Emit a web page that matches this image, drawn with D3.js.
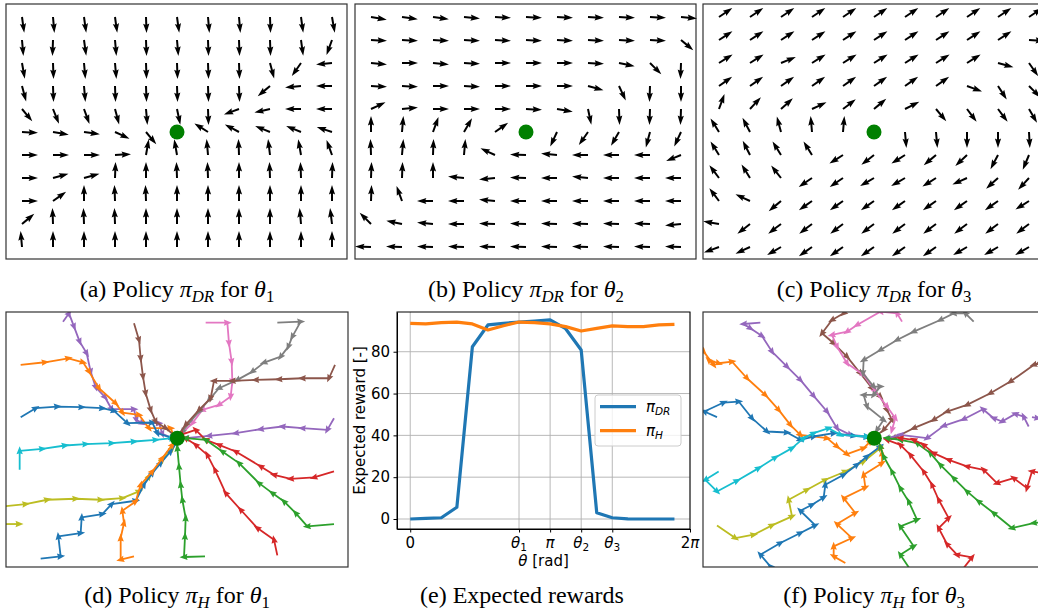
<!DOCTYPE html>
<html>
<head>
<meta charset="utf-8">
<script src="https://cdn.jsdelivr.net/npm/d3@7"></script>
<style>
  body { margin: 0; background: #fff; }
  svg { display: block; }
  .cap { font-family: "Liberation Serif", "Times New Roman", serif; font-size: 24px; fill: #000; }
  .ax text { font-family: "DejaVu Sans", sans-serif; font-size: 15px; fill: #000; }
</style>
</head>
<body>
<svg id="fig" width="1038" height="613"></svg>
<script>
// Quiver fields: action angle in degrees (counter-clockwise from +x), rows top->bottom, 11x11 grid
const quiverA = [
  [-82,-85,-82,-82,-88,-82,-85,-85,-88,-82,-80],
  [-85,-92,-82,-85,-88,-85,-88,-88,-88,-82,-110],
  [-80,-88,-85,-85,-88,-88,-88,-88,-75,-125,-175],
  [-75,-88,-85,-88,-88,-88,-88,-88,-140,-175,180],
  [-50,-68,-70,-75,-85,-78,-88,-160,-167,180,180],
  [-3,-10,-8,-25,-50,null,148,152,158,158,162],
  [0,0,0,3,80,100,95,92,97,100,110],
  [0,15,15,88,90,92,92,90,92,92,88],
  [0,35,90,92,92,90,90,90,90,90,90],
  [40,92,92,92,90,90,90,90,90,95,97],
  [95,90,90,90,90,90,90,90,90,90,90]
]
const quiverB = [
  [-10,-8,-8,-5,-3,-3,-3,-3,-3,-3,-5],
  [-3,-3,-3,-3,-3,-3,-3,-3,-3,-3,-40],
  [-5,0,-5,-3,0,0,0,-3,-12,-45,-92],
  [-3,-3,0,-3,0,0,0,-15,-65,-92,-90],
  [25,5,0,0,0,-3,-10,-78,-88,-92,-92],
  [90,85,70,60,35,null,-115,-125,-120,-105,-115],
  [92,85,88,85,155,178,175,180,180,180,202],
  [88,88,90,175,185,178,180,175,180,180,180],
  [88,110,180,180,175,180,180,180,180,180,180],
  [135,168,175,180,178,178,178,178,178,178,185],
  [178,178,178,178,178,178,178,178,178,178,178]
]
const quiverC = [
  [34,34,34,34,34,34,34,34,34,34,34],
  [33,33,33,33,33,33,33,33,33,33,-3],
  [32,32,22,32,32,32,32,32,32,-15,-55],
  [35,35,35,35,35,35,35,35,-20,-57,-45],
  [70,47,42,25,37,40,27,-50,-53,-53,-60],
  [122,118,105,95,85,null,-85,-85,-90,-90,-87],
  [122,117,122,122,-148,-142,-148,-140,-137,-118,-113],
  [127,122,128,-146,-146,-150,-150,-148,-156,-138,-133],
  [127,155,-140,-145,-145,-145,-145,-145,-145,-145,-148],
  [170,-142,-143,-143,-143,-143,-143,-143,-143,-143,-143],
  [-160,-155,-150,-145,-145,-145,-145,-145,-150,-150,-150]
]

// Trajectories: [tab10 colour index, states (x, y)]
const trajD = [
  [4, [[-3.43,3.50],[-3.25,3.75],[-3.10,3.35],[-2.93,2.90],[-2.72,2.55],[-2.60,2.00],[-2.45,1.53],[-2.17,1.23],[-1.97,0.87],[-1.30,0.87],[-1.23,0.55],[-1.05,0.45],[-0.55,0.45],[-0.45,0.13],[-0.15,0]]],
  [1, [[-4.70,2.20],[-3.97,2.28],[-3.27,2.40],[-2.83,2.28],[-2.65,2.00],[-2.35,1.50],[-1.85,1.05],[-1.65,0.77],[-1.15,0.70],[-0.85,0.30],[-0.20,0.30],[-0.10,0.05]]],
  [0, [[-4.70,0.63],[-4.25,0.90],[-3.60,0.95],[-2.87,0.93],[-2.25,0.90],[-1.90,0.82],[-1.50,0.45],[-0.75,0.47],[-0.60,0.15],[-0.15,0]]],
  [5, [[-1.30,3.45],[-1.15,2.95],[-1.10,2.40],[-1.03,1.85],[-0.95,1.35],[-0.80,0.85],[-0.65,0.50],[-0.35,0.30],[-0.05,0.05]]],
  [6, [[0.85,3.47],[1.50,3.47],[1.55,2.85],[1.63,2.30],[1.65,1.70],[1.60,1.25],[1.25,1.00],[0.75,0.85],[0.45,0.45],[0.15,0.15],[0,0]]],
  [7, [[3.00,3.47],[3.70,3.50],[3.45,3.05],[3.33,2.75],[3.10,2.45],[2.60,2.27],[2.25,2.00],[1.80,1.75],[1.25,1.50],[0.95,1.15],[0.65,0.80],[0.15,0.20]]],
  [5, [[4.73,2.20],[4.55,1.80],[3.75,1.80],[3.05,1.77],[2.35,1.75],[1.65,1.72],[1.10,1.72],[1.00,1.20],[0.65,0.85],[0.25,0.40],[0,0.05]]],
  [4, [[4.70,0.60],[4.50,0.25],[3.75,0.30],[3.15,0.35],[2.50,0.27],[1.75,0.15],[0.95,0.07],[0.25,0]]],
  [3, [[4.70,-1.00],[4.10,-1.18],[3.40,-1.22],[2.90,-1.10],[2.50,-0.85],[1.75,-0.40],[1.25,-0.20],[0.85,-0.05],[0.55,0.25],[0.10,0.10]]],
  [9, [[-4.73,-0.95],[-4.73,-0.38],[-4.05,-0.32],[-3.37,-0.22],[-2.75,-0.18],[-1.97,-0.15],[-1.30,-0.10],[-0.65,-0.05],[-0.15,0]]],
  [8, [[-5.30,-2.06],[-4.55,-1.98],[-3.90,-1.85],[-3.05,-1.82],[-2.30,-1.85],[-1.65,-1.80],[-1.15,-1.60],[-0.85,-1.15],[-0.45,-0.65],[-0.15,-0.30],[-0.05,-0.05]]],
  [8, [[-5.30,-2.58],[-4.75,-2.58]]],
  [0, [[-4.10,-3.62],[-3.50,-3.55],[-3.57,-2.95],[-2.90,-2.85],[-2.87,-2.38],[-2.25,-2.28],[-1.97,-1.98],[-1.25,-1.88],[-1.00,-1.40],[-0.75,-1.05],[-0.50,-0.75],[-0.20,-0.40],[0,-0.10]]],
  [1, [[-1.30,-3.55],[-1.70,-3.65],[-1.70,-3.00],[-1.60,-2.55],[-1.65,-2.18],[-1.25,-1.90],[-1.10,-1.40],[-0.75,-1.00],[-0.45,-0.60],[-0.15,-0.20]]],
  [2, [[0.83,-3.55],[0.20,-3.57],[0.23,-2.95],[0.25,-2.40],[0.15,-1.85],[0.10,-1.40],[0.05,-0.85],[0,-0.30],[0,0]]],
  [3, [[3.00,-3.52],[2.90,-3.05],[2.40,-2.70],[1.90,-2.15],[1.45,-1.65],[1.13,-0.95],[0.90,-0.50],[0.55,-0.20],[0.25,0]]],
  [2, [[4.70,-2.58],[3.90,-2.65],[3.55,-2.25],[3.20,-1.90],[2.85,-1.65],[2.45,-1.35],[1.85,-0.75],[1.35,-0.40],[0.85,-0.05],[0.25,0]]]
]
const trajF = [
  [4, [[-3.42,3.47],[-3.92,3.43],[-3.72,3.30],[-3.37,3.07],[-3.07,2.60],[-2.62,2.15],[-2.22,1.75],[-1.82,1.27],[-1.42,0.80],[-1.12,0.30],[-0.72,0.10],[-0.22,0.05]]],
  [1, [[-5.30,2.80],[-5.12,2.60],[-4.82,2.20],[-4.97,2.35],[-4.67,2.25],[-4.27,2.30],[-3.82,1.80],[-3.27,1.30],[-2.87,0.85],[-2.52,0.40],[-2.22,0.10],[-1.42,0],[-1.12,-0.25],[-0.82,-0.48],[-0.32,-0.30],[-0.12,-0.10]]],
  [0, [[-4.72,0.63],[-5.10,0.80],[-4.52,1.07],[-4.07,1.10],[-3.67,0.60],[-3.22,0.20],[-2.62,0.17],[-2.22,-0.05],[-1.82,0.05],[-1.22,0.15],[-0.62,0.07],[-0.22,0.03]]],
  [9, [[-4.67,-1.00],[-5.07,-1.25],[-4.72,-1.60],[-4.12,-1.28],[-3.47,-0.90],[-2.97,-0.58],[-2.47,-0.30],[-2.12,0],[-1.82,0.15],[-1.37,0.30],[-1.02,0.10],[-0.22,0.05]]],
  [5, [[-0.75,3.90],[-0.92,3.75],[-1.27,3.55],[-1.57,3.15],[-1.22,2.85],[-0.82,2.45],[-0.42,1.95],[-0.07,1.50],[0.18,1.25],[0.38,0.85],[0.53,0.55],[0.28,0.25],[0.03,0.05]]],
  [6, [[0.83,3.50],[0.68,3.75],[0.18,3.80],[-0.52,3.40],[-0.82,3.20],[-1.27,3.10],[-1.12,2.75],[-0.82,2.25],[-0.32,1.90],[0.03,1.40],[0.38,0.95],[0.63,0.60],[0.53,0.25]]],
  [7, [[2.98,3.50],[2.73,3.75],[2.38,3.75],[1.98,3.55],[1.18,3.20],[0.68,2.95],[0.18,2.65],[-0.32,2.35],[-0.34,1.95],[-0.02,1.55],[0.18,1.55],[-0.02,1.30],[-0.32,1.30],[-0.22,0.95],[0.28,0.55],[0.08,0.25],[0,0]]],
  [5, [[5.18,2.35],[4.93,2.25],[4.78,2.20],[4.08,1.70],[3.48,1.35],[2.78,1.00],[2.18,0.80],[1.78,0.55],[1.18,0.30],[0.58,0]]],
  [4, [[4.63,0.35],[4.48,0.65],[4.23,0.73],[3.83,0.50],[3.58,0.60],[3.26,0.87],[2.68,0.57],[2.08,0.37],[1.58,0],[0.78,0.10],[0.38,0]]],
  [4, [[4.73,0.63],[4.90,0.60]]],
  [8, [[-4.72,-2.62],[-4.17,-3.00],[-3.62,-2.90],[-3.07,-2.62],[-2.47,-2.35],[-2.57,-1.85],[-2.02,-1.55],[-1.47,-1.25],[-0.87,-1.00],[-0.32,-0.70],[0.18,-0.30]]],
  [0, [[-2.97,-4.00],[-3.12,-3.85],[-3.42,-3.50],[-2.82,-3.15],[-2.22,-2.85],[-1.77,-2.62],[-2.22,-2.18],[-1.87,-2.00],[-1.52,-1.78],[-1.47,-1.40],[-0.92,-1.10],[-0.52,-0.80],[-0.22,-0.55],[0.18,-0.25]]],
  [1, [[-0.87,-3.75],[-1.22,-3.55],[-1.22,-3.25],[-0.67,-3.00],[-1.12,-2.58],[-0.57,-2.25],[-0.92,-1.80],[-0.27,-1.48],[-0.32,-1.10],[0.23,-0.75],[0.23,-0.45],[0.18,-0.25]]],
  [2, [[1.08,-3.95],[0.78,-3.50],[1.18,-3.25],[0.78,-2.65],[1.28,-2.45],[1.03,-1.90],[0.78,-1.50],[0.53,-1.00],[0.28,-0.55],[0.18,-0.25]]],
  [3, [[2.68,-3.90],[2.93,-3.58],[2.48,-3.50],[2.18,-3.18],[1.93,-2.70],[2.23,-2.40],[1.93,-1.85],[1.73,-1.40],[1.48,-1.00],[1.08,-0.50],[0.78,-0.20],[0.38,-0.05]]],
  [2, [[5.20,-2.50],[4.78,-2.55],[4.13,-2.70],[3.58,-2.25],[3.13,-1.90],[2.78,-1.60],[2.38,-1.20],[1.98,-0.80],[1.68,-0.45],[1.28,-0.15],[0.78,-0.05],[0.38,0]]],
  [3, [[5.08,-1.05],[4.73,-1.00],[4.58,-1.50],[4.18,-1.20],[3.68,-1.35],[3.28,-0.95],[2.78,-0.85],[2.23,-0.65],[1.78,-0.45],[1.48,-0.20],[1.18,-0.05],[0.78,0]]]
]

// Expected rewards
const thetaDeg = [0,20,40,60,80,100,120,140,160,180,200,220,240,260,280,300,320,340]
const rewardDR = [0,0.3,0.6,5.6,82.4,92.8,93.6,94.2,94.7,95.2,91.0,80.8,3.0,0.6,0.1,0,0,0]
const rewardH = [93.6,93.3,93.9,94.2,93.3,90.4,92.4,94.2,93.9,93.3,92.0,89.9,91.2,92.4,92.0,92.0,92.8,93.1]
const xTickVals = [0, 7*Math.PI/9, Math.PI, 11*Math.PI/9, 13*Math.PI/9, 2*Math.PI]
const xTickLabels = [[['0','']], [['θ','i'],['1','s']], [['π','i']], [['θ','i'],['2','s']], [['θ','i'],['3','s']], [['2',''],['π','i']]]
const yTickVals = [0,20,40,60,80]

// Captions
const captions = [
  [177, 297, '(a)', 'DR', '1'],
  [526, 297, '(b)', 'DR', '2'],
  [874, 297, '(c)', 'DR', '3'],
  [177, 603, '(d)', 'H', '1'],
  [874, 603, '(f)', 'H', '3']
]

const tab10 = d3.schemeCategory10
const svg = d3.select('#fig')

// text with italic / subscript pieces
function rich(text, parts, size) {
  let down = false
  parts.forEach(([s, k]) => {
    const t = text.append('tspan').text(s)
    if (k.includes('i')) t.attr('font-style', 'italic')
    if (k.includes('s')) {
      t.attr('font-size', size * 0.7)
      if (!down) { t.attr('dy', size * 0.22); down = true }
    } else if (down) { t.attr('dy', -size * 0.22); down = false }
  })
  return text
}

// ---- quiver panels (a)-(c)
const arrowD = 'M0,-1L7.6,-1L6.6,-3.1L16,0L6.6,3.1L7.6,1L0,1Z'
function quiverPanel(angles, left) {
  const gx = d3.scaleLinear().domain([0, 10]).range([left + 16, left + 326])
  const gy = d3.scaleLinear().domain([0, 10]).range([17, 247])
  const g = svg.append('g')
  g.append('rect').attr('x', left).attr('y', 4).attr('width', 341).attr('height', 255)
    .attr('fill', 'none').attr('stroke', '#333').attr('stroke-width', 1.2)
  angles.forEach((row, j) => row.forEach((a, i) => {
    if (a === null) return
    g.append('path').attr('d', arrowD).attr('fill', '#000')
      .attr('transform', `translate(${gx(i)},${gy(j)}) rotate(${-a})`)
  }))
  g.append('circle').attr('cx', gx(5)).attr('cy', gy(5)).attr('r', 7.5).attr('fill', 'green')
}
quiverPanel(quiverA, 6)
quiverPanel(quiverB, 355)
quiverPanel(quiverC, 703)

// ---- trajectory panels (d), (f)
function trajPanel(trajs, left, id) {
  const sx = d3.scaleLinear().domain([-5.14, 5.12]).range([left, left + 342])
  const sy = d3.scaleLinear().domain([-3.87, 3.79]).range([567, 312])
  svg.append('clipPath').attr('id', id).append('rect')
    .attr('x', left).attr('y', 312).attr('width', 342).attr('height', 255)
  const g = svg.append('g')
  const inner = g.append('g').attr('clip-path', `url(#${id})`)
  const line = d3.line().x(d => sx(d[0])).y(d => sy(d[1]))
  trajs.forEach(([ci, pts]) => {
    const col = tab10[ci]
    inner.append('path').attr('d', line(pts)).attr('fill', 'none').attr('stroke', col)
      .attr('stroke-width', 1.8).attr('stroke-linejoin', 'round')
    pts.forEach((p, k) => {
      if (k === 0) return
      const q = pts[k - 1]
      const ang = Math.atan2(sy(p[1]) - sy(q[1]), sx(p[0]) - sx(q[0])) * 180 / Math.PI
      inner.append('path').attr('d', 'M4.5,0L-3.5,-3.2L-2.5,0L-3.5,3.2Z').attr('fill', col)
        .attr('transform', `translate(${sx(p[0])},${sy(p[1])}) rotate(${ang})`)
    })
  })
  g.append('rect').attr('x', left).attr('y', 312).attr('width', 342).attr('height', 255)
    .attr('fill', 'none').attr('stroke', '#333').attr('stroke-width', 1.2)
  g.append('circle').attr('cx', sx(0)).attr('cy', sy(0)).attr('r', 7.5).attr('fill', 'green')
}
trajPanel(trajD, 6, 'clipD')
trajPanel(trajF, 703, 'clipF')

// ---- (e) expected rewards
const ex = d3.scaleLinear().domain([-0.297, 2 * Math.PI]).range([397, 690])
const ey = d3.scaleLinear().domain([-4.78, 99.0]).range([529, 312])
const ge = svg.append('g').attr('class', 'ax')

ge.append('g').selectAll('line').data(xTickVals).join('line')
  .attr('x1', d => ex(d)).attr('x2', d => ex(d)).attr('y1', 312).attr('y2', 529)
  .attr('stroke', '#b0b0b0').attr('stroke-width', 0.9)
ge.append('g').selectAll('line').data(yTickVals).join('line')
  .attr('y1', d => ey(d)).attr('y2', d => ey(d)).attr('x1', 397).attr('x2', 690)
  .attr('stroke', '#b0b0b0').attr('stroke-width', 0.9)

const rewardLine = d3.line().x((d, i) => ex(thetaDeg[i] * Math.PI / 180)).y(d => ey(d))
ge.append('path').attr('d', rewardLine(rewardDR)).attr('fill', 'none')
  .attr('stroke', tab10[0]).attr('stroke-width', 3.2).attr('stroke-linejoin', 'round')
ge.append('path').attr('d', rewardLine(rewardH)).attr('fill', 'none')
  .attr('stroke', tab10[1]).attr('stroke-width', 3.2).attr('stroke-linejoin', 'round')

const xAxis = d3.axisBottom(ex).tickValues(xTickVals).tickSize(3.5).tickSizeOuter(0).tickPadding(3.5).tickFormat(() => '')
const gxAx = ge.append('g').attr('transform', 'translate(0,529)').call(xAxis)
gxAx.selectAll('.tick text').remove()
xTickVals.forEach((v, i) => {
  rich(ge.append('text').attr('x', ex(v)).attr('y', 548).attr('text-anchor', 'middle'), xTickLabels[i], 15)
})
const yAxis = d3.axisLeft(ey).tickValues(yTickVals).tickSize(3.5).tickSizeOuter(0).tickPadding(3.5)
const gyAx = ge.append('g').attr('transform', 'translate(397,0)').call(yAxis)
gyAx.selectAll('text').attr('font-size', 15).attr('font-family', '"DejaVu Sans", sans-serif')
ge.append('rect').attr('x', 397).attr('y', 312).attr('width', 293).attr('height', 217)
  .attr('fill', 'none').attr('stroke', '#000').attr('stroke-width', 1)

rich(ge.append('text').attr('x', 543.5).attr('y', 566).attr('text-anchor', 'middle'), [['θ','i'],[' [rad]','']], 15)
ge.append('text').attr('transform', 'translate(365,420.5) rotate(-90)').attr('text-anchor', 'middle')
  .text('Expected reward [-]')

// legend
const lg = ge.append('g')
lg.append('rect').attr('x', 595).attr('y', 395).attr('width', 86).attr('height', 51).attr('rx', 3)
  .attr('fill', '#fff').attr('fill-opacity', 0.8).attr('stroke', '#ccc')
const legendItems = [[tab10[0], 'DR'], [tab10[1], 'H']]
legendItems.forEach(([c, sub], i) => {
  const y = 406.7 + i * 24
  lg.append('line').attr('x1', 600).attr('x2', 636).attr('y1', y).attr('y2', y)
    .attr('stroke', c).attr('stroke-width', 3.2)
  rich(lg.append('text').attr('x', 646).attr('y', y + 5), [['π','i'],[sub,'si']], 15)
})

// ---- captions
captions.forEach(([x, y, tag, sub, th]) => {
  rich(svg.append('text').attr('class', 'cap').attr('x', x).attr('y', y).attr('text-anchor', 'middle'),
    [[tag + ' Policy ',''],['π','i'],[sub,'si'],[' for ',''],['θ','i'],[th,'s']], 24)
})
svg.append('text').attr('class', 'cap').attr('x', 522).attr('y', 603).attr('text-anchor', 'middle')
  .text('(e) Expected rewards')
</script>
</body>
</html>
